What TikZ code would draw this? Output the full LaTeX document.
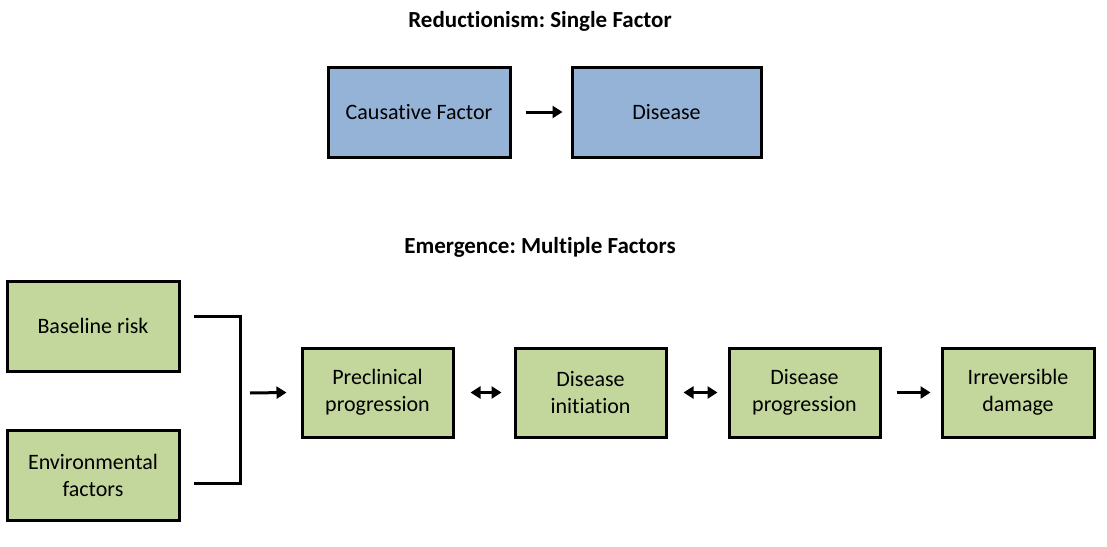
\documentclass[tikz,border=0pt]{standalone}
\usepackage{fontspec}
\setmainfont[RawFeature={-liga;-clig;-calt;-dlig}]{Carlito}
\usetikzlibrary{arrows.meta,calc}
\definecolor{boxblue}{HTML}{95B3D7}
\definecolor{boxgreen}{HTML}{C3D69B}
\begin{document}
\begin{tikzpicture}[x=1pt,y=-1pt,
  box/.style={draw=black,line width=3pt,align=center,font=\fontsize{22}{27}\selectfont,inner sep=0pt},
  bluebox/.style={box,fill=boxblue,minimum width=182pt,minimum height=90pt},
  greenbox/.style={box,fill=boxgreen,minimum width=172pt,minimum height=90pt},
  midbox/.style={box,fill=boxgreen,minimum width=151pt,minimum height=89pt},
  title/.style={font=\frenchspacing\bfseries\fontsize{23}{26}\selectfont},
  arr/.style={line width=3pt,-{Triangle[length=10pt,width=12pt]}},
  darr/.style={line width=3pt,{Triangle[length=10pt,width=12pt]}-{Triangle[length=10pt,width=12pt]}},
  bracket/.style={line width=3pt}]
\useasboundingbox (0,0) rectangle (1107,546);
\node[title] (t1) at (540,21) {Reductionism: Single Factor};
\node[bluebox] (cf) at (419,112) {Causative Factor};
\node[bluebox,minimum width=189pt] (dis) at (666.5,112) {Disease};
\draw[arr] ($(cf.east)+(14,0)$) -- ($(dis.west)+(-8,0)$);

\node[title] (t2) at (540,247) {Emergence: Multiple Factors};
\node[greenbox] (base) at (93,326) {Baseline risk};
\node[greenbox] (env) at (93,475) {Environmental\\factors};
\node[midbox] (pre) at (377.5,392.5) {Preclinical\\progression};
\node[midbox] (ini) at (590.5,392.5) {Disease\\initiation};
\node[midbox] (prog) at (804.5,392.5) {Disease\\progression};
\node[midbox,minimum width=152pt] (irr) at (1018,392.5) {Irreversible\\damage};

\coordinate (b1) at (194,316);
\coordinate (b2) at (240,316);
\coordinate (b3) at (240,483);
\coordinate (b4) at (194,483);
\draw[bracket] (b1) -- (b2) -- (b3) -- (b4);
\coordinate (a0) at (250,393);
\draw[arr] (a0) -- ($(pre.west)+(-14,0)$);
\draw[darr] ($(pre.east)+(16,0)$) -- ($(ini.west)+(-12,0)$);
\draw[darr] ($(ini.east)+(16,0)$) -- ($(prog.west)+(-10,0)$);
\draw[arr] ($(prog.east)+(15,0)$) -- ($(irr.west)+(-10,0)$);
\end{tikzpicture}
\end{document}
